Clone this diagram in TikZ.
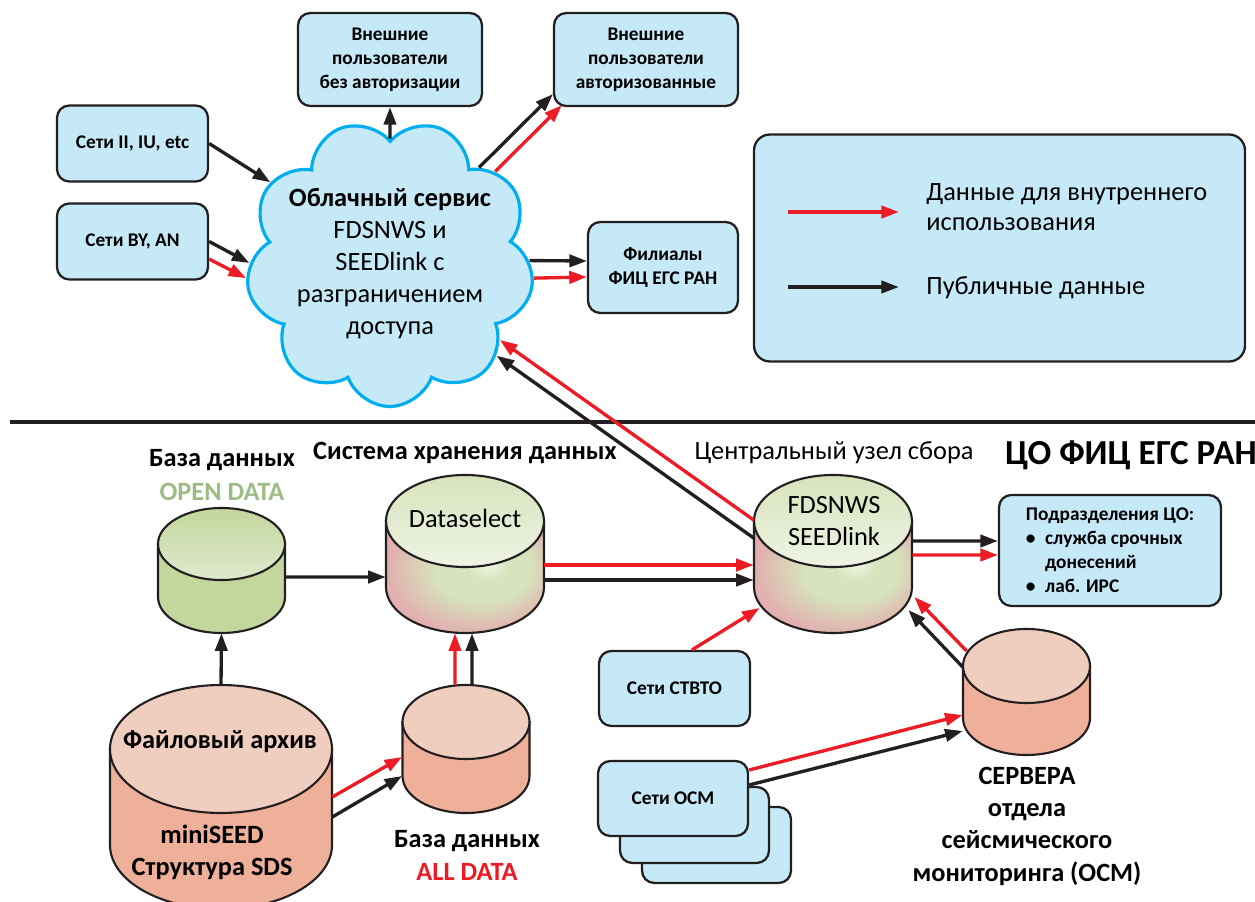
\documentclass[tikz,border=0pt]{standalone}
\usepackage{fontspec}
\setmainfont{Carlito}
\usetikzlibrary{arrows.meta}
\usetikzlibrary{shapes.symbols}
\usetikzlibrary{fit}

\definecolor{boxblue}{HTML}{C6E9F8}
\definecolor{cloudline}{HTML}{00AEEF}
\definecolor{darkline}{HTML}{231F20}
\definecolor{arrred}{HTML}{ED1C24}
\definecolor{salmontop}{HTML}{F0CEBF}
\definecolor{salmonbody}{HTML}{EFB09A}
\definecolor{opengreen}{HTML}{C3D69B}
\definecolor{opengreenlt}{HTML}{DFE9CF}
\definecolor{opentext}{HTML}{9DBB84}
\definecolor{mixpink}{HTML}{E1B0AF}
\definecolor{mixgreen}{HTML}{D6E3BC}

\pgfdeclareradialshading{pinkgreen}{\pgfpoint{8bp}{6bp}}{color(0bp)=(mixgreen!40!white); color(7bp)=(mixgreen); color(15bp)=(mixgreen); color(28bp)=(mixpink); color(50bp)=(mixpink)}

\tikzset{
  box/.style={draw=darkline, line width=1.3pt, fill=boxblue, rounded corners=7pt,
    font=\bfseries\fontsize{11}{13.6}\selectfont, align=center, inner sep=0pt},
  pub/.style={draw=darkline, line width=1.9pt, -{Triangle[length=10pt,width=7pt]}},
  priv/.style={pub, draw=arrred},
  cyl/.style={draw=darkline, line width=1.2pt},
  title/.style={font=\bfseries\fontsize{15}{18.4}\selectfont, align=center, inner sep=0pt},
  plaintext/.style={font=\fontsize{15}{18.2}\selectfont, align=center, inner sep=0pt},
  legtext/.style={font=\fontsize{15}{17}\selectfont, align=left, inner sep=0pt}
}

\newcommand{\dbcyl}[8]{%
  \path[cyl,#7] (#2-#5,#3) -- (#2-#5,#4) arc[start angle=180, end angle=0, x radius=#5, y radius=#6] -- (#2+#5,#3) -- cycle;
  \path[cyl,#8] (#2,#3) ellipse[x radius=#5, y radius=#6];
  \node[fit={(#2-#5,#3-#6) (#2+#5,#4+#6)}, inner sep=0pt] (#1) {};
}

\begin{document}
\begin{tikzpicture}[x=0.02cm, y=-0.02cm]
\useasboundingbox (0,0) rectangle (1255,902);

\node[cloud, cloud puffs=9, cloud puff arc=140, aspect=1, rotate=20, draw=cloudline, line width=1.8pt, fill=boxblue, minimum width=5.76cm, minimum height=5.74cm, inner sep=0pt] (cloud) at (390,263) {};
\node[plaintext] (cloudlbl) at (390,264) {\textbf{Облачный сервис}\\FDSNWS и\\SEEDlink с\\разграничением\\доступа};

\node[box, minimum width=3.68cm, minimum height=1.86cm] (extfree) at (390,59.5) {Внешние\\пользователи\\без авторизации};
\node[box, minimum width=3.68cm, minimum height=1.86cm] (extauth) at (646,59.5) {Внешние\\пользователи\\авторизованные};
\node[box, minimum width=3.02cm, minimum height=1.52cm] (netii) at (132.5,143.5) {Сети II, IU, etc};
\node[box, minimum width=3.02cm, minimum height=1.52cm] (netby) at (132.5,241.5) {Сети BY, AN};
\node[box, minimum width=3cm, minimum height=1.82cm] (filial) at (663,267.5) {Филиалы\\ФИЦ ЕГС РАН};

\node[box, minimum width=9.82cm, minimum height=4.54cm, rounded corners=9pt] (legend) at (999.5,248) {};
\node[legtext, anchor=west] (legint) at (926,207) {Данные для внутреннего\\использования};
\node[legtext, anchor=west] (legpub) at (926,288) {Публичные данные};
\draw[priv] ([xshift=0.7cm,yshift=0.72cm]legend.west) -- ([xshift=2.92cm,yshift=0.72cm]legend.west);
\draw[pub] ([xshift=0.7cm,yshift=-0.78cm]legend.west) -- ([xshift=2.92cm,yshift=-0.78cm]legend.west);

\draw[line width=2pt, darkline] (10,422) -- (1255,422);

\node[title] (opentitle) at (222,460) {База данных};
\node[title, text=opentext] (opendata) at (222,492) {OPEN DATA};
\node[title] (storetitle) at (465,453) {Система хранения данных};
\node[plaintext] (centraltitle) at (834,453) {Центральный узел сбора};
\node[title, font=\bfseries\fontsize{20}{24}\selectfont] (cotitle) at (1131,455) {ЦО ФИЦ ЕГС РАН};
\node[title] (alltitle) at (467,841) {База данных};
\node[title, text=arrred] (alldata) at (467,872) {ALL DATA};

\dbcyl{opendb}{221.5}{544}{597}{63.5}{36}{fill=opengreen}{top color=opengreen, bottom color=opengreenlt}
\dbcyl{dsel}{465}{521}{587}{79}{46}{shade, shading=pinkgreen}{top color=mixgreen, bottom color=mixgreen!40!white}
\dbcyl{central}{833}{521}{587}{79}{46}{shade, shading=pinkgreen}{top color=mixgreen, bottom color=mixgreen!40!white}
\dbcyl{archive}{221}{749}{845}{111}{64}{fill=salmonbody}{fill=salmontop}
\dbcyl{alldb}{466}{722}{776}{63.5}{37}{fill=salmonbody}{fill=salmontop}
\dbcyl{servers}{1026.5}{666}{718}{63.5}{37}{fill=salmonbody}{fill=salmontop}

\node[title] (archtop) at (220,742) {Файловый архив};
\node[title] (archbot) at (212,852) {miniSEED\\Структура SDS};
\node[plaintext] (dsellbl) at (465,518) {Dataselect};
\node[plaintext] (centrallbl) at (834,521) {FDSNWS\\SEEDlink};
\node[title] (serverslbl) at (1027,826) {СЕРВЕРА\\отдела\\сейсмического\\мониторинга (ОСМ)};

\node[box, minimum width=4.44cm, minimum height=2.22cm, align=left] (podr) at (1110,550.5) {Подразделения ЦО:\\\textbullet\enspace служба срочных\\\phantom{\textbullet\enspace}донесений\\\textbullet\enspace лаб. ИРС};
\node[box, minimum width=3.02cm, minimum height=1.5cm] (ctbto) at (674.5,688.5) {Сети СТВТО};
\node[box, minimum width=2.98cm, minimum height=1.52cm] (osm3) at (716.5,845) {};
\node[box, minimum width=2.98cm, minimum height=1.52cm] (osm2) at (694.5,825) {};
\node[box, minimum width=3cm, minimum height=1.5cm] (osm1) at (673,798.5) {Сети ОСМ};

\draw[pub] (netii.east) -- (cloud.126);
\draw[pub] (netby.east) -- (cloud.160);
\draw[priv] ([yshift=-0.35cm]netby.east) -- (cloud.166);
\draw[pub] (cloud.70) -- (extfree.south);
\draw[pub] (cloud.27) -- ([yshift=0.26cm]extauth.south west);
\draw[priv] (cloud.21) -- ([xshift=0.18cm,yshift=0.04cm]extauth.south west);
\draw[pub] (cloud.341) -- ([yshift=0.13cm]filial.west);
\draw[priv] (cloud.334) -- ([yshift=-0.19cm]filial.west);
\draw[priv] ([yshift=0.68cm]central.west) -- (cloud.305);
\draw[pub] ([yshift=0.32cm]central.west) -- (cloud.299);

\draw[pub] (archive.north) -- (opendb.south);
\draw[pub] ([yshift=-0.13cm]opendb.east) -- ([yshift=-0.46cm]dsel.west);
\draw[priv] ([xshift=-0.22cm]alldb.north) -- ([xshift=-0.2cm]dsel.south);
\draw[pub] ([xshift=0.12cm]alldb.north) -- ([xshift=0.14cm]dsel.south);
\draw[priv] (archive.east) -- ([yshift=-0.16cm]alldb.west);
\draw[pub] ([yshift=-0.4cm]archive.east) -- ([yshift=-0.54cm]alldb.west);
\draw[priv] ([yshift=-0.22cm]dsel.east) -- ([yshift=-0.22cm]central.west);
\draw[pub] ([yshift=-0.52cm]dsel.east) -- ([yshift=-0.52cm]central.west);
\draw[pub] ([yshift=0.26cm]central.east) -- ([yshift=0.19cm]podr.west);
\draw[priv] ([yshift=-0.02cm]central.east) -- ([yshift=-0.09cm]podr.west);
\draw[priv] ([xshift=0.35cm]ctbto.north) -- ([xshift=0.12cm,yshift=-1.08cm]central.west);
\draw[priv] ([xshift=0.08cm,yshift=0.82cm]servers.west) -- ([xshift=0.04cm,yshift=-0.86cm]central.east);
\draw[pub] ([yshift=0.5cm]servers.west) -- ([xshift=-0.08cm,yshift=-1.12cm]central.east);
\draw[priv] ([yshift=0.57cm]osm1.east) -- ([yshift=-0.46cm]servers.west);
\draw[pub] ([yshift=0.27cm]osm1.east) -- ([yshift=-0.78cm]servers.west);
\end{tikzpicture}
\end{document}
